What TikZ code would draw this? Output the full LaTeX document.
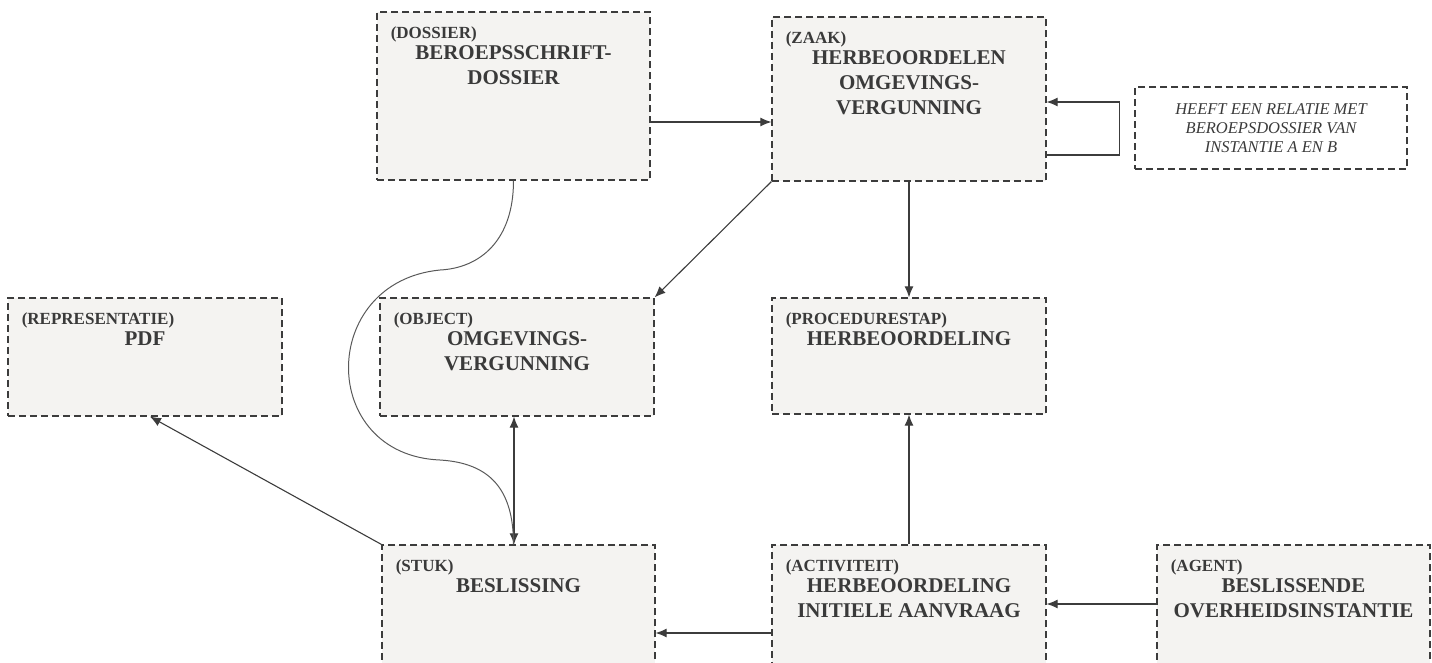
\documentclass[tikz,border=0pt]{standalone}
\usepackage{fontspec}
\setmainfont{Liberation Serif}
\usepackage{tikz}
\usetikzlibrary{arrows.meta}
\definecolor{kader}{HTML}{3C3C3C}
\definecolor{vlak}{HTML}{F4F3F1}
\definecolor{tekst}{HTML}{3A3A3A}
\newcommand*{\blok}[6]{% #1 = naam, #2 = midden, #3 = breedte, #4 = hoogte, #5 = soort, #6 = titel
   \node[blok, minimum width=#3, minimum height=#4] (#1) at (#2) {};
   \node[soort] (#1-soort) at ([shift={(14pt,-27pt)}]#1.north west) {#5};
   \node[titel] (#1-titel) at ([yshift=-34pt]#1.north) {#6};
}

\begin{document}
\begin{tikzpicture}[
		x=1pt,
		y=-1pt,
		thick
	]
		\tikzstyle{blok}=[
			rectangle,
			draw=kader,
			fill=vlak,
			line width=1.2pt,
			dash pattern=on 7pt off 4pt,
			inner sep=0pt
		]
		\tikzstyle{soort}=[
			anchor=base west,
			inner sep=0pt,
			text=tekst,
			font=\fontsize{17}{20}\selectfont\bfseries
		]
		\tikzstyle{titel}=[
			anchor=north,
			inner sep=0pt,
			align=center,
			text=tekst,
			font=\fontsize{21}{25}\selectfont\bfseries
		]
		\tikzstyle{pijl}=[
			draw=kader,
			line width=1.1pt,
			-{Latex[length=11pt,width=9pt]}
		]

		\useasboundingbox (0,0) rectangle (1432,662);
		\clip (0,0) rectangle (1432,662);

		% bovenste rij
		\blok{dossier}{513.5,96}{273pt}{168pt}{(DOSSIER)}{BEROEPSSCHRIFT-\\DOSSIER}
		\blok{zaak}{909,99}{274pt}{164pt}{(ZAAK)}{HERBEOORDELEN\\OMGEVINGS-\\VERGUNNING}
		\node[blok, fill=white, minimum width=272pt, minimum height=82pt, align=center,
			text=tekst, font=\fontsize{16.5}{19}\selectfont\itshape] (notitie) at (1271,128)
			{HEEFT EEN RELATIE MET\\BEROEPSDOSSIER VAN\\INSTANTIE A EN B};
		% middelste rij
		\blok{pdf}{145,357}{274pt}{118pt}{(REPRESENTATIE)}{PDF}
		\blok{object}{517,357}{274pt}{118pt}{(OBJECT)}{OMGEVINGS-\\VERGUNNING}
		\blok{stap}{909,356}{274pt}{116pt}{(PROCEDURESTAP)}{HERBEOORDELING}
		% onderste rij
		\blok{stuk}{518.5,625}{273pt}{160pt}{(STUK)}{BESLISSING}
		\blok{activiteit}{909,625}{274pt}{160pt}{(ACTIVITEIT)}{HERBEOORDELING\\INITIELE AANVRAAG}
		\blok{agent}{1293.5,625}{273pt}{160pt}{(AGENT)}{BESLISSENDE\\OVERHEIDSINSTANTIE}

		\coordinate (d1) at ([yshift=-26pt]dossier.east);
		\coordinate (o1) at ([xshift=-3pt]object.south);
		\coordinate (g1) at ([yshift=21pt]agent.west);
		\coordinate (a1) at ([yshift=-8pt]activiteit.west);
		\coordinate (bocht1) at (440,270);
		\coordinate (bocht2) at (440,460);

		\draw[pijl] (d1) -- (d1 -| zaak.west);
		\draw[pijl] ([yshift=-56pt]zaak.east) -- ++(73,0) |- ([yshift=-3pt]zaak.east);
		\draw[pijl] (zaak.south) -- (stap.north);
		\draw[pijl] (zaak.south west) -- (object.north east);
		\draw[pijl, {Latex[length=11pt,width=9pt]}-{Latex[length=11pt,width=9pt]}] (o1) -- (o1 |- stuk.north);
		\draw[pijl] (stuk.north west) -- ([xshift=5pt]pdf.south);
		\draw[pijl] (activiteit.north) -- (stap.south);
		\draw[pijl] (g1) -- (g1 -| activiteit.east);
		\draw[pijl] (a1) -- (a1 -| stuk.east);
		% kromme van dossier naar stuk
		\draw[draw=kader!85, line width=1pt] (dossier.south) .. controls +(0,60) and (480,268) .. (bocht1)
			.. controls (318,282) and (318,455) .. (bocht2)
			.. controls (490,463) and ([xshift=-5pt,yshift=55pt]stuk.north) .. ([xshift=-5pt]stuk.north);
	\end{tikzpicture}
\end{document}
